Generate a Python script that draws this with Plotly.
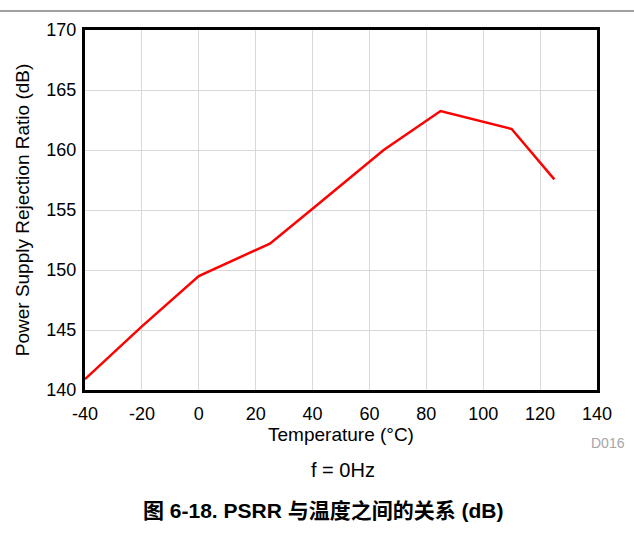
import plotly.graph_objects as go

temperature = [-40, -20, 0, 25, 40, 65, 85, 110, 125]
psrr_db = [140.9, 145.3, 149.5, 152.2, 155.1, 160.0, 163.25, 161.75, 157.55]

x_ticks = [-40, -20, 0, 20, 40, 60, 80, 100, 120, 140]
y_ticks = [140, 145, 150, 155, 160, 165, 170]

FONT = "Liberation Sans, Arial, Noto Sans CJK SC, sans-serif"

fig = go.Figure()
fig.add_trace(go.Scatter(
    x=temperature, y=psrr_db, mode="lines",
    line=dict(color="#ff0000", width=2.5), showlegend=False,
))

axis_common = dict(
    showgrid=True, gridcolor="#d9d9d9", gridwidth=1,
    showline=True, linecolor="black", linewidth=3, mirror=True,
    ticks="", zeroline=False,
    tickfont=dict(family=FONT, size=18, color="black"),
)

fig.update_layout(
    width=634, height=533,
    margin=dict(l=85, r=37, t=30, b=143),
    paper_bgcolor="white", plot_bgcolor="white",
    font=dict(family=FONT, color="black"),
    xaxis=dict(range=[-40, 140], tickvals=x_ticks, ticktext=[str(v) for v in x_ticks],
               ticklabelstandoff=5,
               title=dict(text="Temperature (°C)", font=dict(family=FONT, size=19), standoff=6),
               **axis_common),
    yaxis=dict(range=[140, 170], tickvals=y_ticks, ticktext=[str(v) for v in y_ticks],
               ticklabelstandoff=2,
               title=dict(text="Power Supply Rejection Ratio (dB)", font=dict(family=FONT, size=19), standoff=12),
               **axis_common),
)

fig.add_shape(type="line", xref="paper", yref="paper",
              x0=-85/512, x1=(634-85)/512, y0=1 + 19/360, y1=1 + 19/360,
              line=dict(color="#808080", width=1.5))

fig.add_annotation(text="D016", xref="paper", yref="paper",
                   x=(627-85)/512, y=-(443-390)/360, xanchor="right", yanchor="middle",
                   showarrow=False, font=dict(family=FONT, size=14, color="#a6a6a6"))
fig.add_annotation(text="f = 0Hz", xref="paper", yref="paper",
                   x=(343-85)/512, y=-(470-390)/360, xanchor="center", yanchor="middle",
                   showarrow=False, font=dict(family=FONT, size=20, color="black"))
fig.add_annotation(text="<b>图 6-18. PSRR 与温度之间的关系 (dB)</b>", xref="paper", yref="paper",
                   x=(323-85)/512, y=-(510-390)/360, xanchor="center", yanchor="middle",
                   showarrow=False, font=dict(family=FONT, size=21, color="black"))

fig.write_html("out.html", config={"displayModeBar": False},
               post_script="document.body.style.margin='0';")
